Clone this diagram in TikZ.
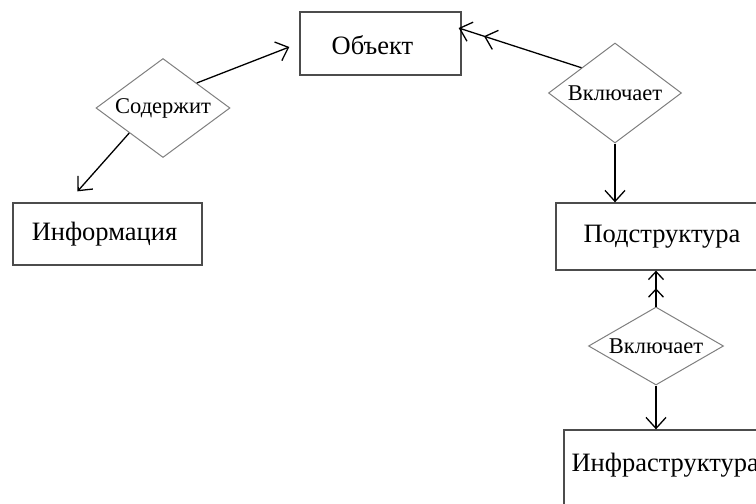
\documentclass[tikz,border=0pt]{standalone}
\usepackage{fontspec}
\setmainfont{Liberation Serif}
\usetikzlibrary{shapes.geometric,arrows.meta,calc}

\begin{document}
\begin{tikzpicture}[x=1pt,y=-1pt,
  box/.style={draw=black!70,line width=1.3pt,rectangle,inner sep=0pt},
  boxtext/.style={font=\fontsize{26.5}{30}\selectfont,inner sep=0pt},
  rel/.style={draw=black!50,line width=1pt,diamond,inner sep=0pt,
    font=\fontsize{22.5}{26}\selectfont},
  link/.style={line width=1.3pt,-{Straight Barb[length=11pt,width=20pt]}},
  dlink/.style={line width=1.3pt,
    -{Straight Barb[length=11pt,width=20pt,sep=14pt]Straight Barb[length=11pt,width=20pt]}},
  dlinkshort/.style={line width=1.3pt,
    -{Straight Barb[length=8pt,width=15pt,sep=8pt]Straight Barb[length=8pt,width=15pt]}}
]
\useasboundingbox (0,0) rectangle (756,504);
\clip (0,0) rectangle (756,504);
\fill[white] (0,0) rectangle (756,504);

% entities
\node[box,minimum width=161pt,minimum height=63pt,
  label={[boxtext,xshift=-8pt,yshift=-2pt]center:Объект}] (obj) at (380.5,43.5) {};
\node[box,minimum width=189pt,minimum height=62pt,
  label={[boxtext,xshift=-3pt]center:Информация}] (info) at (107.5,234) {};
\node[box,minimum width=212pt,minimum height=67pt,
  label={[boxtext]center:Подструктура}] (pod) at (662,236.5) {};
\node[box,minimum width=220pt,minimum height=90pt,
  label={[boxtext,anchor=west,xshift=8pt,yshift=10pt]west:Инфраструктура}] (infra) at (674,475) {};

% relationships
\node[rel,minimum width=134pt,minimum height=99pt,aspect=1.35] (d1) at (163,108) {Содержит};
\node[rel,minimum width=133pt,minimum height=100pt,aspect=1.33] (d2) at (615,93) {Включает};
\node[rel,minimum width=135pt,minimum height=78pt,aspect=1.73] (d3) at (656,346) {Включает};

% connectors
\draw[link] (d1.north east) -- ([shift={(-10,3.5)}]obj.west);
\draw[link] (d1.south west) -- ([shift={(-30,-11)}]info.north);
\draw[dlink] (d2.north west) -- ([shift={(-3,-15.5)}]obj.east);
\draw[link] (d2.south) -- (d2.south |- pod.north);
\draw[dlinkshort] (d3.north) -- (d3.north |- pod.south);
\draw[link] (d3.south) -- (d3.south |- infra.north);
\end{tikzpicture}
\end{document}
